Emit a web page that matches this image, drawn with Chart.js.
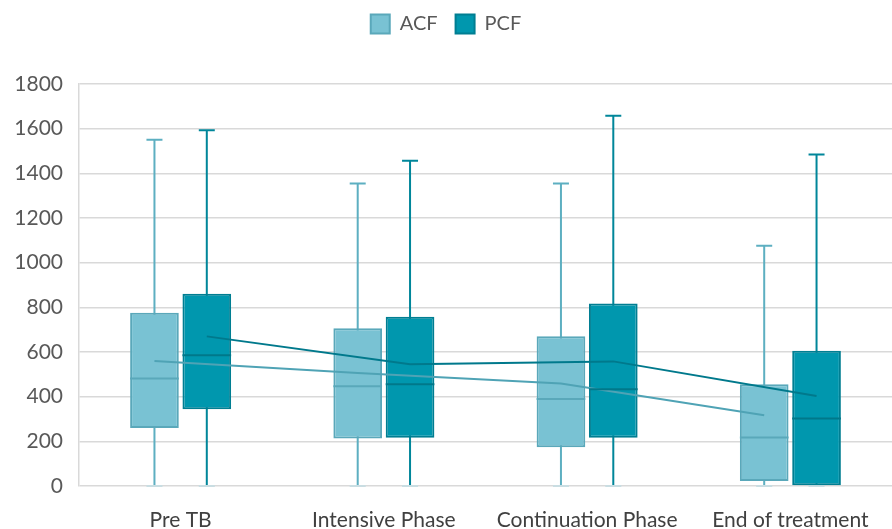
<!DOCTYPE html>
<html>
<head>
<meta charset="utf-8">
<script src="https://cdn.jsdelivr.net/npm/chart.js@4"></script>
<style>
  html, body { margin: 0; padding: 0; background: #fff; overflow: hidden; }
  #wrap { width: 892px; height: 529px; }
</style>
</head>
<body>
<div id="wrap"><canvas id="boxChart"></canvas></div>
<script>
// categories and box plot statistics
const categories = ['Pre TB', 'Intensive Phase', 'Continuation Phase', 'End of treatment'];

const acfMin    = [0, 0, 0, 0];
const acfQ1     = [260, 213, 173, 22];
const acfMedian = [481, 447, 390, 217];
const acfQ3     = [776, 706, 671, 456];
const acfMax    = [1550, 1355, 1355, 1076];
const acfMean   = [560, 506, 459, 317];

const pcfMin    = [0, 0, 0, 0];
const pcfQ1     = [344, 216, 216, 0];
const pcfMedian = [585, 456, 433, 302];
const pcfQ3     = [861, 758, 817, 606];
const pcfMax    = [1593, 1456, 1658, 1484];
const pcfMean   = [670, 545, 558, 403];

const yTicks = [0, 200, 400, 600, 800, 1000, 1200, 1400, 1600, 1800];

const series = [
    { min: acfMin, q1: acfQ1, med: acfMedian, q3: acfQ3, max: acfMax, mean: acfMean,
      whisker: '#5DAFC1', medLine: '#5AA8BA', meanLine: '#4FA3B5' },
    { min: pcfMin, q1: pcfQ1, med: pcfMedian, q3: pcfQ3, max: pcfMax, mean: pcfMean,
      whisker: '#00869A', medLine: '#00788A', meanLine: '#00798C' }
];

// whiskers behind the boxes, medians and mean lines on top
const boxPlotPlugin = {
    id: 'boxPlot',
    beforeInit(chart) {
        // extra room under the legend
        const fit = chart.legend.fit;
        chart.legend.fit = function() {
            fit.call(this);
            this.height += 40;
        };
    },
    beforeDatasetsDraw(chart) {
        const ctx = chart.ctx;
        const y = chart.scales.y;
        series.forEach(function(s, i) {
            const meta = chart.getDatasetMeta(i);
            meta.data.forEach(function(bar, j) {
                const x = bar.x;
                const top = y.getPixelForValue(s.max[j]);
                const bot = y.getPixelForValue(s.min[j]);
                ctx.save();
                ctx.strokeStyle = s.whisker;
                ctx.lineWidth = 2;
                ctx.beginPath();
                ctx.moveTo(x, top);
                ctx.lineTo(x, bot);
                ctx.moveTo(x - 8, top);
                ctx.lineTo(x + 8, top);
                ctx.stroke();
                ctx.strokeStyle = '#C9DDE2';
                ctx.beginPath();
                ctx.moveTo(x - 8, bot);
                ctx.lineTo(x + 8, bot);
                ctx.stroke();
                ctx.restore();
            });
        });
    },
    afterDatasetsDraw(chart) {
        const ctx = chart.ctx;
        const y = chart.scales.y;
        series.forEach(function(s, i) {
            const meta = chart.getDatasetMeta(i);
            ctx.save();
            ctx.strokeStyle = s.medLine;
            ctx.lineWidth = 2;
            meta.data.forEach(function(bar, j) {
                const half = bar.width / 2;
                const my = y.getPixelForValue(s.med[j]);
                ctx.beginPath();
                ctx.moveTo(bar.x - half, my);
                ctx.lineTo(bar.x + half, my);
                ctx.stroke();
            });
            ctx.strokeStyle = s.meanLine;
            ctx.beginPath();
            meta.data.forEach(function(bar, j) {
                const my = y.getPixelForValue(s.mean[j]);
                if (j === 0) ctx.moveTo(bar.x, my); else ctx.lineTo(bar.x, my);
            });
            ctx.stroke();
            ctx.restore();
        });
    }
};

const ctx = document.getElementById('boxChart').getContext('2d');
new Chart(ctx, {
    type: 'bar',
    data: {
        labels: categories,
        datasets: [
            {
                label: 'ACF',
                data: acfQ1.map(function(v, i) { return [v, acfQ3[i]]; }),
                backgroundColor: '#79C2D3',
                borderColor: '#5AA8BA',
                borderWidth: 2,
                borderSkipped: false
            },
            {
                label: 'PCF',
                data: pcfQ1.map(function(v, i) { return [v, pcfQ3[i]]; }),
                backgroundColor: '#0097AE',
                borderColor: '#007E92',
                borderWidth: 2,
                borderSkipped: false
            }
        ]
    },
    options: {
        responsive: true,
        maintainAspectRatio: false,
        animation: false,
        categoryPercentage: 0.515,
        barPercentage: 0.93,
        layout: { padding: { left: 0, right: 0, top: -4, bottom: 0 } },
        plugins: {
            legend: {
                position: 'top',
                labels: {
                    boxWidth: 19,
                    boxHeight: 19,
                    padding: 18,
                    color: '#595959',
                    font: { family: 'Lato', size: 20 }
                }
            },
            tooltip: { enabled: false }
        },
        scales: {
            x: {
                grid: { display: false },
                border: { display: false },
                afterFit: function(axis) { axis.height = 43; },
                ticks: {
                    color: '#404040',
                    padding: 14,
                    maxRotation: 0,
                    font: { family: 'Lato', size: 21 }
                }
            },
            y: {
                min: 0,
                max: 1800,
                afterFit: function(axis) { axis.width = 79; },
                afterBuildTicks: function(axis) {
                    axis.ticks = yTicks.map(function(v) { return { value: v }; });
                },
                grid: { color: '#D9D9D9', lineWidth: 1.5, drawTicks: false },
                border: { display: true, color: '#D9D9D9', width: 1.5 },
                ticks: {
                    color: '#595959',
                    padding: 16,
                    font: { family: 'Lato', size: 21 },
                    callback: function(v) { return String(v); }
                }
            }
        }
    },
    plugins: [boxPlotPlugin]
});
</script>
</body>
</html>
